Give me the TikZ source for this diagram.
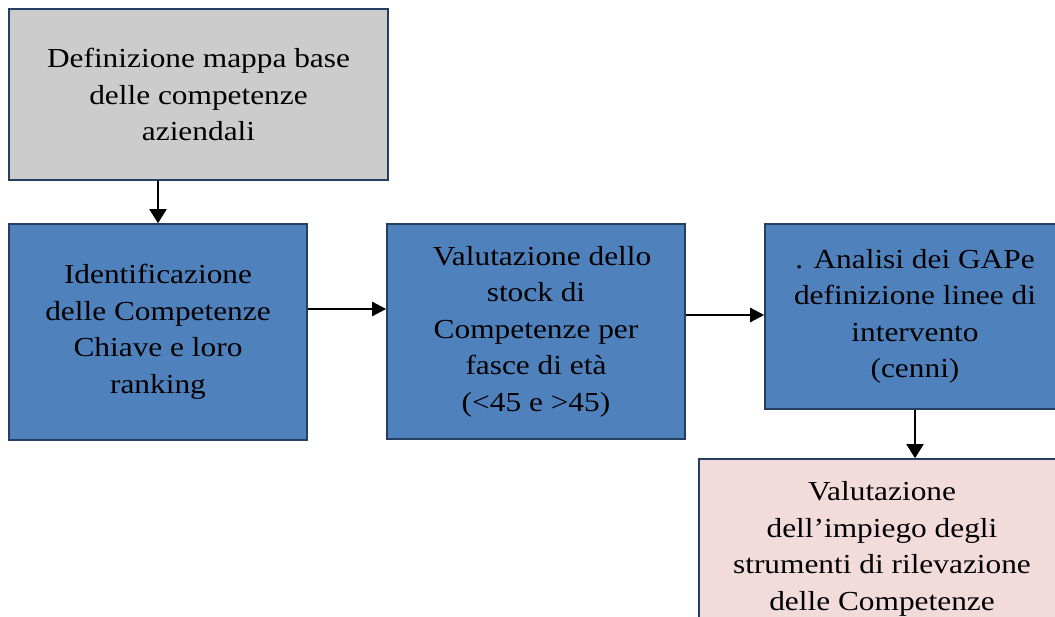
\documentclass[tikz,border=0pt]{standalone}
\usepackage{fontspec}
\setmainfont[FakeStretch=1.14]{Liberation Serif}
\usetikzlibrary{arrows.meta}
\definecolor{bord}{HTML}{243F60}
\definecolor{grayfill}{HTML}{CCCCCC}
\definecolor{bluefill}{HTML}{4F81BD}
\definecolor{pinkfill}{HTML}{F2DCDB}
\tikzset{
  x=1pt, y=-1pt,
  box/.style={draw=bord, line width=1.6pt, align=center, inner sep=0pt,
    font=\fontsize{27.5}{36.5}\selectfont, text=black},
  hconn/.style={line width=2.4pt, -{Triangle[length=14pt,width=14pt]}},
  vconn/.style={line width=1.8pt, -{Triangle[length=14pt,width=17pt]}},
}
\begin{document}
\begin{tikzpicture}
\useasboundingbox (0,0) rectangle (1055,617);
\node[box, fill=grayfill, minimum width=379pt, minimum height=171pt] (a) at (198.5,94.5)
  {Definizione mappa base\\delle competenze\\aziendali};
\node[box, fill=bluefill, minimum width=298pt, minimum height=216pt] (b) at (158,332)
  {Identificazione\\delle Competenze\\Chiave e loro\\ranking};
\node[box, fill=bluefill, minimum width=298pt, minimum height=215pt] (c) at (536,331.5)
  {\hspace*{12pt}Valutazione dello\\stock di\\Competenze per\\fasce di età\\(<45 e >45)};
\node[box, fill=bluefill, minimum width=300pt, minimum height=185pt] (d) at (915,316.5)
  {. Analisi dei GAPe\\definizione linee di\\intervento\\(cenni)};
\node[box, fill=pinkfill, minimum width=366pt, minimum height=180pt] (e) at (882,549)
  {Valutazione\\dell’impiego degli\\strumenti di rilevazione\\delle Competenze};
\draw[vconn] (a.south -| 158,0) -- (b.north -| 158,0);
\draw[hconn] (b.east |- 0,309) -- (c.west |- 0,309);
\draw[hconn] (c.east |- 0,315) -- (d.west |- 0,315);
\draw[vconn] (d.south -| 915,0) -- (e.north -| 915,0);
\end{tikzpicture}
\end{document}
